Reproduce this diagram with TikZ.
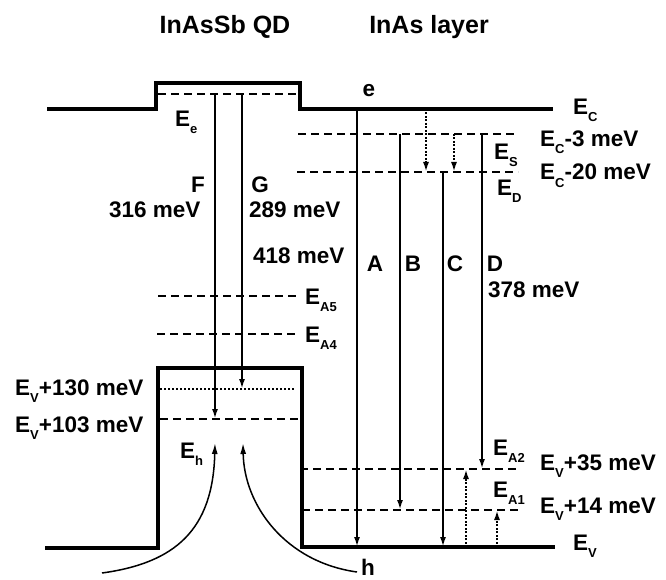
\documentclass[tikz,border=0pt]{standalone}
\usepackage{fontspec}
\setmainfont{Liberation Sans}
\usepackage{tikz}
\usetikzlibrary{arrows.meta}
\newcommand{\lsub}[1]{\raisebox{-7pt}{\fontsize{13}{13}\selectfont #1}}

\begin{document}
\begin{tikzpicture}[x=1pt,y=-1pt,
  band/.style={line width=3.2pt,line join=miter},
  lvl/.style={line width=2pt,dash pattern=on 8pt off 5pt},
  dots/.style={line width=2pt,dash pattern=on 2pt off 2pt},
  trans/.style={line width=2.2pt,-{Latex[length=10pt,width=6pt]}},
  hop/.style={line width=2pt,dash pattern=on 2pt off 1.5pt,-{Latex[length=10pt,width=6pt]}},
  capt/.style={line width=1.5pt,-{Latex[length=11pt,width=6pt]}},
  lab/.style={font=\fontsize{22.5}{25}\selectfont\bfseries,inner sep=0pt},
  head/.style={font=\fontsize{25}{28}\selectfont\bfseries,inner sep=0pt}
]
\useasboundingbox (0,0) rectangle (666,580);
% headings
\node[head,anchor=base] (qd) at (225,34) {InAsSb QD};
\node[head,anchor=base] (layer) at (429,34) {InAs layer};
% band edges
\draw[band] (47,109) -- (156,109) -- (156,83) -- (300,83) -- (300,109) -- (553,109);
\draw[band] (45,548) -- (158,548) -- (158,368) -- (302,368) -- (302,547) -- (555,547);
% levels
\draw[lvl] (158,94) -- (297,94);
\draw[lvl] (158,296) -- (298,296);
\draw[lvl] (157,334) -- (296,334);
\draw[dots] (160,389) -- (295,389);
\draw[lvl] (160,419) -- (300,419);
\draw[lvl] (298,134) -- (518,134);
\draw[lvl] (297,172) -- (518,172);
\draw[lvl] (300,469) -- (520,469);
\draw[lvl] (302,510) -- (522,510);
% transition end points
\coordinate (F1) at (215,94);  \coordinate (F2) at (215,419);
\coordinate (G1) at (242,94);  \coordinate (G2) at (242,389);
\coordinate (A1) at (357,109); \coordinate (A2) at (357,547);
\coordinate (B1) at (400,134); \coordinate (B2) at (400,510);
\coordinate (C1) at (443,172); \coordinate (C2) at (443,547);
\coordinate (D1) at (482,134); \coordinate (D2) at (482,469);
\coordinate (s1) at (426,109); \coordinate (s2) at (426,172);
\coordinate (t1) at (454,134); \coordinate (t2) at (454,172);
\coordinate (u1) at (466,547); \coordinate (u2) at (466,469);
\coordinate (w1) at (497,547); \coordinate (w2) at (497,510);
\coordinate (cl1) at (102,573); \coordinate (cl2) at (215,443);
\coordinate (cr1) at (357,572); \coordinate (cr2) at (243,443);
\draw[trans] (F1) -- (F2);
\draw[trans] (G1) -- (G2);
\draw[trans] (A1) -- (A2);
\draw[trans] (B1) -- (B2);
\draw[trans] (C1) -- (C2);
\draw[trans] (D1) -- (D2);
\draw[hop] (s1) -- (s2);
\draw[hop] (t1) -- (t2);
\draw[hop] (u1) -- (u2);
\draw[hop] (w1) -- (w2);
% hole capture
\draw[capt] (cl1) .. controls (175,563) and (213,530) .. (cl2);
\draw[capt] (cr1) .. controls (285,562) and (244,505) .. (cr2);
% labels
\node[lab,anchor=base] (le) at (369,97) {e};
\node[lab,anchor=base] (lh) at (368,575) {h};
\node[lab,anchor=base west] (lEC) at (573,115) {E\lsub{C}};
\node[lab,anchor=base west] (lEC3) at (540,147) {E\lsub{C}-3 meV};
\node[lab,anchor=base west] (lEC20) at (540,180) {E\lsub{C}-20 meV};
\node[lab,anchor=base west] (lES) at (494,160) {E\lsub{S}};
\node[lab,anchor=base west] (lED) at (497,195) {E\lsub{D}};
\node[lab,anchor=base west] (lEe) at (175,127) {E\lsub{e}};
\node[lab,anchor=base] (lF) at (198,193) {F};
\node[lab,anchor=base] (lG) at (260,193) {G};
\node[lab,anchor=base west] (lF316) at (109,217) {316 meV};
\node[lab,anchor=base west] (lG289) at (249,217) {289 meV};
\node[lab,anchor=base west] (l418) at (253,263) {418 meV};
\node[lab,anchor=base] (lA) at (375,271) {A};
\node[lab,anchor=base] (lB) at (413,271) {B};
\node[lab,anchor=base] (lC) at (455,271) {C};
\node[lab,anchor=base] (lD) at (495,271) {D};
\node[lab,anchor=base west] (l378) at (488,297) {378 meV};
\node[lab,anchor=base west] (lEA5) at (305,304) {E\lsub{A5}};
\node[lab,anchor=base west] (lEA4) at (305,342) {E\lsub{A4}};
\node[lab,anchor=base west] (lV130) at (15,395) {E\lsub{V}+130 meV};
\node[lab,anchor=base west] (lV103) at (15,432) {E\lsub{V}+103 meV};
\node[lab,anchor=base west] (lEh) at (180,458) {E\lsub{h}};
\node[lab,anchor=base west] (lEA2) at (493,455) {E\lsub{A2}};
\node[lab,anchor=base west] (lV35) at (540,470) {E\lsub{V}+35 meV};
\node[lab,anchor=base west] (lEA1) at (493,497) {E\lsub{A1}};
\node[lab,anchor=base west] (lV14) at (540,513) {E\lsub{V}+14 meV};
\node[lab,anchor=base west] (lEV) at (573,550) {E\lsub{V}};
\end{tikzpicture}
\end{document}
